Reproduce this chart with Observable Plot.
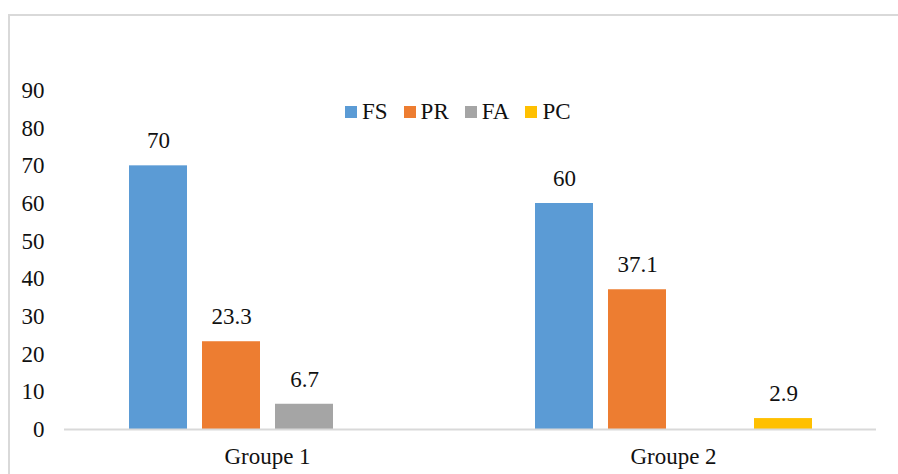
<!DOCTYPE html>
<html>
<head>
<meta charset="utf-8">
<script src="https://cdn.jsdelivr.net/npm/d3@7"></script>
<script src="https://cdn.jsdelivr.net/npm/@observablehq/plot@0.6"></script>
<style>
  html, body { margin: 0; padding: 0; background: #fff; }
  #wrap { position: relative; width: 898px; height: 474px; overflow: hidden; font-family: "Liberation Serif", "DejaVu Serif", serif; }
  #frame { position: absolute; left: 8px; top: 14px; width: 910px; height: 480px; border: 2px solid #d9d9d9; box-sizing: border-box; }
  #chart { position: absolute; left: 0; top: 0; }
  #legend { position: absolute; left: 345px; top: 99px; display: flex; align-items: center; font-size: 23px; color: #111; line-height: 26px; }
  #legend .item { display: flex; align-items: center; margin-right: 16px; }
  #legend .sw { width: 12px; height: 12px; margin-right: 5px; }
</style>
</head>
<body>
<div id="wrap">
  <div id="frame"></div>
  <div id="chart"></div>
  <div id="legend"></div>
</div>
<script>
const groups = ["Groupe 1", "Groupe 2"];
const series = ["FS", "PR", "FA", "PC"];
const colors = ["#5B9BD5", "#ED7D31", "#A5A5A5", "#FFC000"];
const valuesFS = [70, 60];
const valuesPR = [23.3, 37.1];
const valuesFA = [6.7, null];
const valuesPC = [null, 2.9];
const yTicks = [0, 10, 20, 30, 40, 50, 60, 70, 80, 90];

const seriesValues = { FS: valuesFS, PR: valuesPR, FA: valuesFA, PC: valuesPC };
const data = [];
groups.forEach((g, i) => {
  series.forEach(s => {
    const v = seriesValues[s][i];
    if (v != null) data.push({ group: g, series: s, value: v });
  });
});

const chart = Plot.plot({
  width: 898,
  height: 474,
  marginLeft: 64,
  marginRight: 22,
  marginTop: 90,
  marginBottom: 45,
  style: { fontFamily: "'Liberation Serif', 'DejaVu Serif', serif", fontSize: "23px", color: "#111", background: "transparent" },
  fx: { domain: groups, padding: 0, label: null, axis: null },
  x: { domain: series, paddingInner: 0.21, paddingOuter: 0.867, axis: null },
  y: { domain: [0, 90], axis: null },
  color: { domain: series, range: colors },
  marks: [
    Plot.axisY({ ticks: yTicks, tickSize: 0, tickPadding: 20, label: null, tickFormat: d => String(d) }),
    Plot.axisFx({ tickSize: 0, tickPadding: 18, label: null, anchor: "bottom" }),
    Plot.barY(data, { fx: "group", x: "series", y: "value", fill: "series" }),
    Plot.text(data, { fx: "group", x: "series", y: "value", text: d => String(d.value), dy: -25, fill: "#111" }),
    Plot.ruleY([0], { stroke: "#d9d9d9", strokeWidth: 2 })
  ]
});
document.getElementById("chart").appendChild(chart);

const legend = document.getElementById("legend");
series.forEach((s, i) => {
  const item = document.createElement("div");
  item.className = "item";
  const sw = document.createElement("div");
  sw.className = "sw";
  sw.style.background = colors[i];
  const t = document.createElement("span");
  t.textContent = s;
  item.appendChild(sw);
  item.appendChild(t);
  legend.appendChild(item);
});
</script>
</body>
</html>
